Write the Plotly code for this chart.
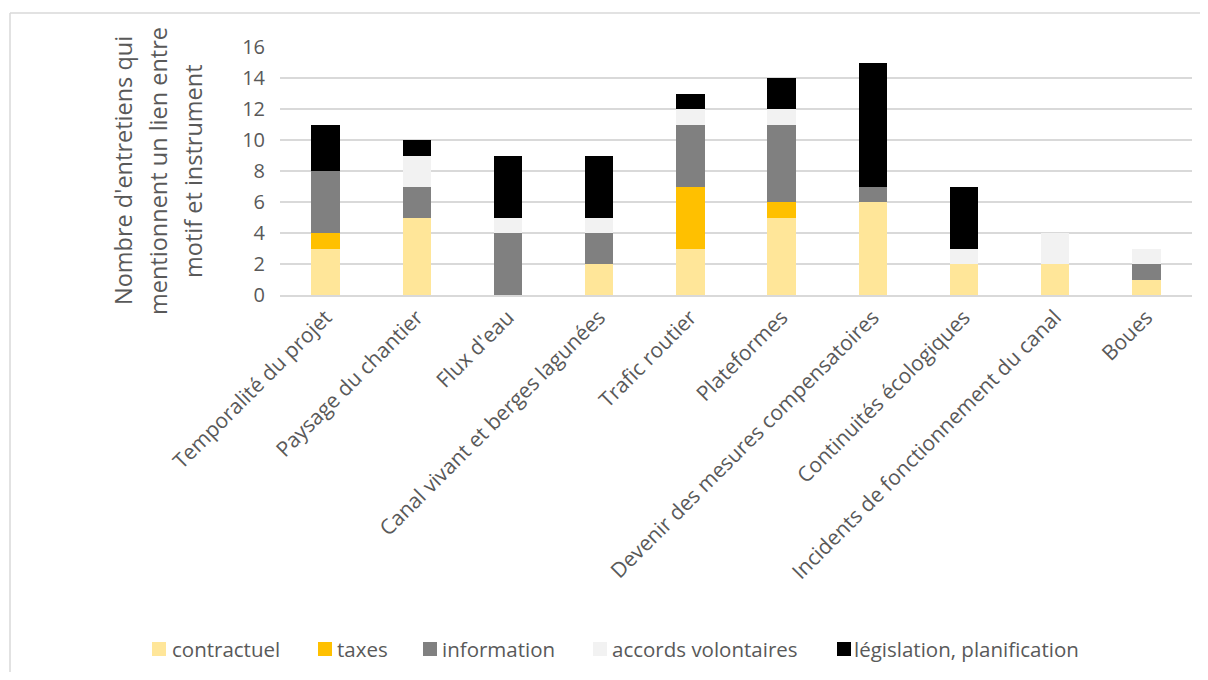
import plotly.graph_objects as go

categories = ["Temporalité du projet", "Paysage du chantier", "Flux d'eau",
              "Canal vivant et berges lagunées", "Trafic routier", "Plateformes",
              "Devenir des mesures compensatoires", "Continuités écologiques",
              "Incidents de fonctionnement du canal", "Boues"]
contractuel = [3, 5, 0, 2, 3, 5, 6, 2, 2, 1]
taxes = [1, 0, 0, 0, 4, 1, 0, 0, 0, 0]
information = [4, 2, 4, 2, 4, 5, 1, 0, 0, 1]
accords = [0, 2, 1, 1, 1, 1, 0, 1, 2, 1]
legislation = [3, 1, 4, 4, 1, 2, 8, 4, 0, 0]
series_names = ["contractuel", "taxes", "information", "accords volontaires",
                "législation, planification"]
series_values = [contractuel, taxes, information, accords, legislation]
series_colors = ["#FFE699", "#FFC000", "#808080", "#F2F2F2", "#000000"]
y_title_lines = ["Nombre d'entretiens qui", "mentionnent un lien entre", "motif et instrument"]

FONT = "'Open Sans', sans-serif"
TXT = "#595959"
W, H = 1192, 664          # page body has an 8px margin
L, T = 272, 39
PW, PH = 912, 248
R, B = W - L - PW, H - T - PH


def px(xpage):
    return (xpage - 8 - L) / PW


def py(ypage):
    return (T + PH - (ypage - 8)) / PH


fig = go.Figure()
for name, vals, col in zip(series_names, series_values, series_colors):
    fig.add_trace(go.Bar(x=categories, y=vals, name=name, marker_color=col,
                         marker_line_width=0, width=0.31, showlegend=False))

annotations = []
shapes = []
# y-axis title, three lines
for xpage, line in zip([123, 158, 193], y_title_lines):
    annotations.append(dict(text=line, xref="paper", yref="paper", x=px(xpage), y=0.5,
                            xanchor="center", yanchor="middle", textangle=-90,
                            showarrow=False, font=dict(size=23.5, color=TXT, family=FONT)))
# manual legend
leg_sym_x = [152, 318, 423, 593, 837]
leg_txt_x = [170, 335, 440, 610, 852]
for sx, tx, name, col in zip(leg_sym_x, leg_txt_x, series_names, series_colors):
    shapes.append(dict(type="rect", xref="paper", yref="paper", x0=px(sx), x1=px(sx + 14),
                       y0=py(656), y1=py(642), fillcolor=col, line=dict(width=0)))
    annotations.append(dict(text=name, xref="paper", yref="paper", x=px(tx), y=py(649),
                            xanchor="left", yanchor="middle", showarrow=False,
                            font=dict(size=20.5, color=TXT, family=FONT)))
# outer chart border (top and left edges visible; the rest runs off the page)
border = dict(color="#D9D9D9", width=1.5)
shapes.append(dict(type="line", xref="paper", yref="paper", x0=px(10), x1=px(1230),
                   y0=py(13), y1=py(13), line=border, layer="below"))
shapes.append(dict(type="line", xref="paper", yref="paper", x0=px(10), x1=px(10),
                   y0=py(13), y1=py(700), line=border, layer="below"))

fig.update_layout(
    barmode="stack",
    width=W, height=H,
    paper_bgcolor="white", plot_bgcolor="white",
    margin=dict(l=L, r=R, t=T, b=B, autoexpand=False),
    font=dict(family=FONT, color=TXT),
    showlegend=False,
    xaxis=dict(tickangle=-45, tickfont=dict(size=21, color=TXT),
               showline=True, linecolor="#D9D9D9", linewidth=1.5, ticks="", automargin=False),
    yaxis=dict(range=[0, 16], dtick=2, showgrid=True, gridcolor="#D9D9D9", gridwidth=1.5,
               tickfont=dict(size=20, color=TXT), zeroline=False, ticks="",
               ticklabelstandoff=14, automargin=False),
    annotations=annotations,
    shapes=shapes,
)
fig.write_html("out.html")
